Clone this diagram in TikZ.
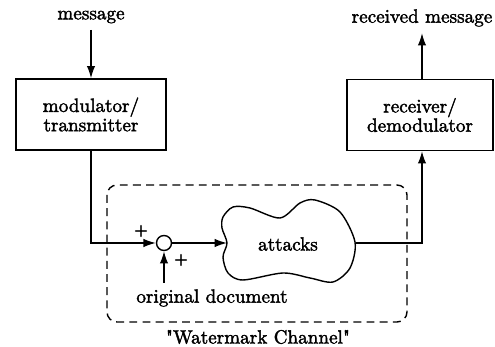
\documentclass[tikz,border=0pt]{standalone}
\usepackage{fontspec}
\newfontfamily\diagfont{Latin Modern Roman}[UprightFeatures={FakeBold=2}]
\usetikzlibrary{arrows.meta}
\usetikzlibrary{positioning}

\begin{document}
\begin{tikzpicture}[
        x=0.02cm, y=-0.02cm,
        line width=0.8pt,
        every node/.style={font=\diagfont\fontsize{10.9}{11}\selectfont},
        arrow/.style={-{Latex[length=7pt,width=4.8pt]}},
        block/.style={draw,rectangle,minimum width=3cm,minimum height=1.42cm,align=center,inner sep=0pt},
        sumnode/.style={draw,circle,minimum size=0.3cm,inner sep=0pt},
        sign/.style={font=\diagfont\fontsize{10}{10}\selectfont,inner sep=0pt},
        channel/.style={dash pattern=on 4.5pt off 3pt,rounded corners=0.2cm}
        ]
        \useasboundingbox (0,0) rectangle (495,347);
        % sender side
        \node[block] (mod) at (91,114.5) {modulator/\\transmitter};
        \node (msg) at (91,17) {message};
        % receiver side
        \node[block,minimum width=2.92cm] (rec) at (420,115) {receiver/\\demodulator};
        \node (recmsg) at (422,18) {received message};
        % the channel
        \draw[channel] (107,185) rectangle (407,322);
        \node (wm) at (258,337) {"Watermark Channel"};
        \node[sumnode] (sum) at (164,243) {};
        \node[sign] (plusa) at (141,231) {+};
        \node[sign] (plusb) at (181,260) {+};
        \node (orig) at (212,298) {original document};
        \draw plot[smooth cycle] coordinates {
          (223,217) (233,207) (250,208) (280,218) (300,203) (315,200)
          (340,212) (355,242) (350,268) (333,282) (310,278) (283,273)
          (243,280) (228,273) (223,257) (227,243) (222,228)};
        \node (attacks) at (288,244) {attacks};
        \coordinate (blobin) at (227,243);
        \coordinate (blobout) at (356,243);
        % connectors
        \draw[arrow] (msg) -- (mod);
        \draw[arrow] (mod.south) |- (sum.west);
        \draw[arrow] (sum |- orig.north) -- (sum.south);
        \draw[arrow] (sum.east) -- (blobin);
        \draw[arrow] (blobout) -| (rec.south -| recmsg);
        \draw[arrow] (rec.north -| recmsg) -- (recmsg);
\end{tikzpicture}
\end{document}
